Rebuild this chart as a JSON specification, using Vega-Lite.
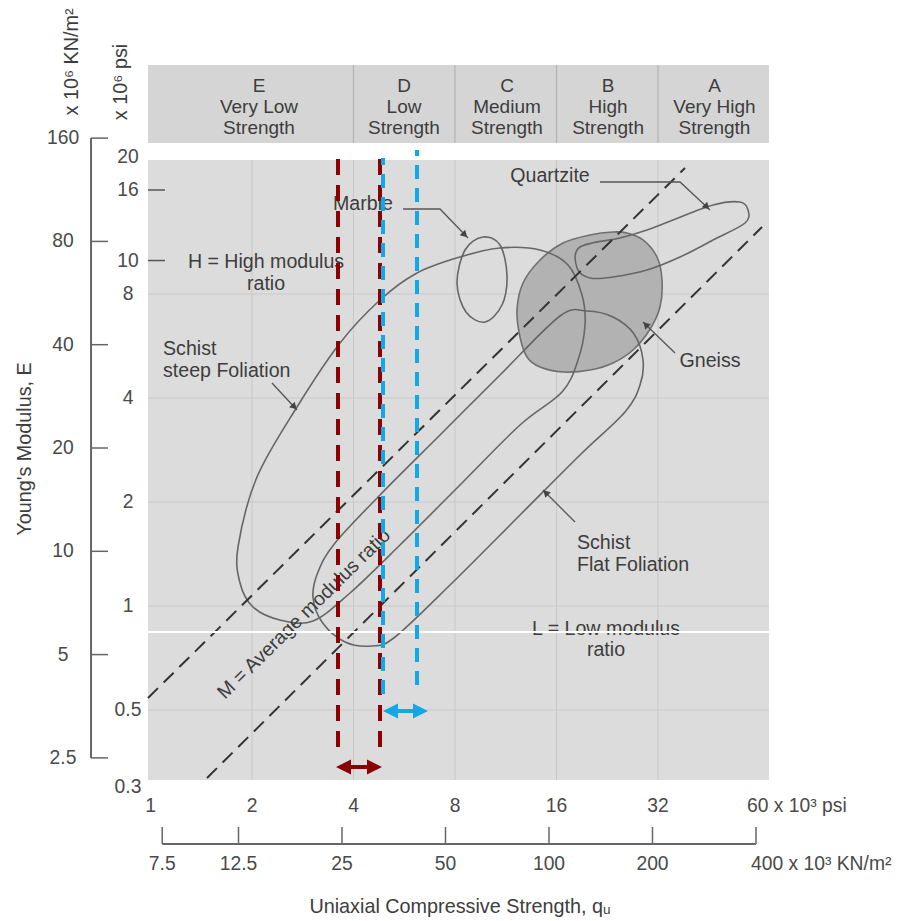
{
"$schema":"https://vega.github.io/schema/vega-lite/v6.json",
"width":914,"height":921,"padding":0,"autosize":{"type":"none"},
"background":"#ffffff",
"config":{"view":{"stroke":null},"text":{"font":"Liberation Sans"}},
"resolve":{"scale":{"x":"independent","y":"independent","color":"independent","shape":"independent"}},
"datasets":{
"plotbg":[{"x":0.9831,"x2":68.29,"y":0.3136,"y2":19.54}],
"header":[{"x":0.9831,"x2":68.29,"y":21.89,"y2":36.81}],
"headerDiv":[{"x":4,"y":21.89,"y2":36.81},{"x":8,"y":21.89,"y2":36.81},{"x":16,"y":21.89,"y2":36.81},{"x":32,"y":21.89,"y2":36.81}],
"headerText":[
{"x":2.098,"y":30.85,"t":"E\nVery Low\nStrength"},
{"x":5.647,"y":30.85,"t":"D\nLow\nStrength"},
{"x":11.41,"y":30.85,"t":"C\nMedium\nStrength"},
{"x":22.75,"y":30.85,"t":"B\nHigh\nStrength"},
{"x":47.07,"y":30.85,"t":"A\nVery High\nStrength"}],
"grid":[
{"x":2,"x2":2,"y":0.3136,"y2":19.54},{"x":4,"x2":4,"y":0.3136,"y2":19.54},{"x":8,"x2":8,"y":0.3136,"y2":19.54},{"x":16,"x2":16,"y":0.3136,"y2":19.54},{"x":32,"x2":32,"y":0.3136,"y2":19.54},
{"x":0.9831,"x2":68.29,"y":8,"y2":8},{"x":0.9831,"x2":68.29,"y":4,"y2":4},{"x":0.9831,"x2":68.29,"y":2,"y2":2},{"x":0.9831,"x2":68.29,"y":1,"y2":1},{"x":0.9831,"x2":68.29,"y":0.5,"y2":0.5}],
"seam":[{"x":0.6179,"x2":73.62,"y":0.8409,"y2":0.8409}],
"psiTicks":[{"x":0.9831,"x2":1.1042,"y":16,"y2":16},{"x":0.9831,"x2":1.1042,"y":10,"y2":10}],
"gneiss":[
{"i":1,"x":23.536,"y":12.094},{"i":2,"x":20.115,"y":11.856},{"i":3,"x":16.728,"y":11.239},{"i":4,"x":14.297,"y":10.036},{"i":5,"x":12.730,"y":8.610},{"i":6,"x":12.218,"y":7.191},{"i":7,"x":12.471,"y":6.007},{"i":8,"x":13.082,"y":5.257},{"i":9,"x":14.297,"y":4.918},{"i":10,"x":16.728,"y":4.757},{"i":11,"x":20.115,"y":4.821},{"i":12,"x":23.536,"y":5.052},{"i":13,"x":26.979,"y":5.508},{"i":14,"x":30.200,"y":6.294},{"i":15,"x":32.440,"y":7.337},{"i":16,"x":32.890,"y":8.784},{"i":17,"x":31.782,"y":10.238},{"i":18,"x":28.885,"y":11.467},{"i":19,"x":25.896,"y":12.014}],
"outlines":[
{"shape":"steep","i":1,"x":1.8179,"y":1.4820},{"shape":"steep","i":2,"x":2.0696,"y":2.3628},{"shape":"steep","i":3,"x":2.7196,"y":3.7676},{"shape":"steep","i":4,"x":3.648,"y":5.772},{"shape":"steep","i":5,"x":4.794,"y":7.687},{"shape":"steep","i":6,"x":6.172,"y":9.202},{"shape":"steep","i":7,"x":8.278,"y":10.238},{"shape":"steep","i":8,"x":10.878,"y":10.870},{"shape":"steep","i":9,"x":14.297,"y":10.728},{"shape":"steep","i":10,"x":17.310,"y":9.707},{"shape":"steep","i":11,"x":19.043,"y":7.948},{"shape":"steep","i":12,"x":19.440,"y":6.507},{"shape":"steep","i":13,"x":18.533,"y":5.154},{"shape":"steep","i":14,"x":16.614,"y":4.164},{"shape":"steep","i":15,"x":12.471,"y":3.3416},{"shape":"steep","i":16,"x":8.278,"y":2.2402},{"shape":"steep","i":17,"x":5.495,"y":1.5018},{"shape":"steep","i":18,"x":3.906,"y":1.0907},{"shape":"steep","i":19,"x":3.0336,"y":0.9049},{"shape":"steep","i":20,"x":2.4218,"y":0.9110},{"shape":"steep","i":21,"x":2.0137,"y":0.99336},{"shape":"steep","i":22,"x":1.8429,"y":1.1658},
{"shape":"flat","i":1,"x":3.139,"y":1.2545},{"shape":"flat","i":2,"x":3.0336,"y":1.0620},{"shape":"flat","i":3,"x":3.226,"y":0.8989},{"shape":"flat","i":4,"x":3.775,"y":0.7867},{"shape":"flat","i":5,"x":4.539,"y":0.7661},{"shape":"flat","i":6,"x":5.311,"y":0.8134},{"shape":"flat","i":7,"x":7.732,"y":1.1503},{"shape":"flat","i":8,"x":12.471,"y":1.8343},{"shape":"flat","i":9,"x":18.787,"y":2.7358},{"shape":"flat","i":10,"x":25.547,"y":3.6442},{"shape":"flat","i":11,"x":28.303,"y":4.3628},{"shape":"flat","i":12,"x":28.885,"y":5.154},{"shape":"flat","i":13,"x":27.166,"y":6.129},{"shape":"flat","i":14,"x":23.536,"y":6.864},{"shape":"flat","i":15,"x":19.704,"y":7.144},{"shape":"flat","i":16,"x":16.389,"y":6.910},{"shape":"flat","i":17,"x":10.878,"y":4.663},{"shape":"flat","i":18,"x":7.221,"y":3.126},{"shape":"flat","i":19,"x":4.794,"y":2.0958},{"shape":"flat","i":20,"x":3.5258,"y":1.5219},
{"shape":"marble","i":1,"x":9.687,"y":11.698},{"shape":"marble","i":2,"x":10.878,"y":11.091},{"shape":"marble","i":3,"x":11.41,"y":9.082},{"shape":"marble","i":4,"x":11.029,"y":7.435},{"shape":"marble","i":5,"x":9.819,"y":6.639},{"shape":"marble","i":6,"x":8.625,"y":7.097},{"shape":"marble","i":7,"x":8.110,"y":8.610},{"shape":"marble","i":8,"x":8.566,"y":10.728},
{"shape":"quartzite","i":1,"x":18.787,"y":10.943},{"shape":"quartzite","i":2,"x":24.690,"y":11.621},{"shape":"quartzite","i":3,"x":29.688,"y":12.258},{"shape":"quartzite","i":4,"x":35.453,"y":13.102},{"shape":"quartzite","i":5,"x":46.592,"y":14.478},{"shape":"quartzite","i":6,"x":56.025,"y":14.772},{"shape":"quartzite","i":7,"x":59.175,"y":14.004},{"shape":"quartzite","i":8,"x":57.971,"y":12.843},{"shape":"quartzite","i":9,"x":46.592,"y":11.467},{"shape":"quartzite","i":10,"x":37.194,"y":10.238},{"shape":"quartzite","i":11,"x":29.688,"y":9.389},{"shape":"quartzite","i":12,"x":23.536,"y":8.961},{"shape":"quartzite","i":13,"x":20.115,"y":8.901},{"shape":"quartzite","i":14,"x":18.405,"y":9.514}],
"modLines":[{"ratio":500,"x":0.9831,"y":0.5417,"x2":38.48,"y2":18.53},{"ratio":200,"x":1.4710,"y":0.3178,"x2":65.10,"y2":12.50}],
"leaders":[
{"name":"quartzite","i":1,"x":21.538,"y":16.880},{"name":"quartzite","i":2,"x":37.194,"y":16.880},{"name":"quartzite","i":3,"x":45.648,"y":14.004},
{"name":"marble","i":1,"x":5.609,"y":14.099},{"name":"marble","i":2,"x":7.221,"y":14.099},{"name":"marble","i":3,"x":8.744,"y":11.621},
{"name":"steep","i":1,"x":2.2928,"y":4.421},{"name":"steep","i":2,"x":2.7196,"y":3.693},
{"name":"gneiss","i":1,"x":35.946,"y":5.400},{"name":"gneiss","i":2,"x":28.885,"y":6.639},
{"name":"flat","i":1,"x":18.157,"y":1.7505},{"name":"flat","i":2,"x":14.593,"y":2.1668}],
"headsDR":[{"name":"quartzite","x":44.419,"y":14.382},{"name":"marble","x":8.508,"y":11.935},{"name":"steep","x":2.6554,"y":3.793}],
"headsUL":[{"name":"gneiss","x":29.587,"y":6.485},{"name":"flat","x":14.944,"y":2.117}],
"annot":[
{"x":15.307,"y":17.568,"t":"Quartzite"},
{"x":4.268,"y":14.577,"t":"Marble"},
{"x":2.201,"y":9.902,"t":"H = High modulus"},
{"x":2.201,"y":8.552,"t":"ratio"},
{"x":45.648,"y":5.119,"t":"Gneiss"},
{"x":22.437,"y":0.8580,"t":"L = Low modulus"},
{"x":22.437,"y":0.7460,"t":"ratio"}],
"annotL":[
{"x":1.0893,"y":5.546,"t":"Schist"},
{"x":1.0893,"y":4.789,"t":"steep Foliation"},
{"x":18.405,"y":1.5219,"t":"Schist"},
{"x":18.405,"y":1.3143,"t":"Flat Foliation"}],
"annotRot":[{"x":2.853,"y":0.9479,"t":"M = Average modulus ratio"}],
"redLines":[{"x":3.598,"y":0.3908,"y2":19.80},{"x":4.794,"y":0.3908,"y2":19.80}],
"blueLines":[{"x":4.893,"y":0.5563,"y2":19.80},{"x":6.172,"y":0.5907,"y2":20.89}],
"arrowShafts":[{"arrow":"red","x":3.648,"x2":4.729,"y":0.3420},{"arrow":"blue","x":5.029,"x2":6.474,"y":0.4967}],
"arrowHeads":[{"arrow":"red","end":"left","x":3.736,"y":0.3420},{"arrow":"red","end":"right","x":4.617,"y":0.3420},{"arrow":"blue","end":"left","x":5.151,"y":0.4967},{"arrow":"blue","end":"right","x":6.322,"y":0.4967}],
"knYAxis":[{"a":2.5,"b":160}],
"knY":[{"v":160,"label":"160"},{"v":80,"label":"80"},{"v":40,"label":"40"},{"v":20,"label":"20"},{"v":10,"label":"10"},{"v":5,"label":"5"},{"v":2.5,"label":"2.5"}],
"psiY":[{"v":20,"label":"20"},{"v":16,"label":"16"},{"v":10,"label":"10"},{"v":8,"label":"8"},{"v":4,"label":"4"},{"v":2,"label":"2"},{"v":1,"label":"1"},{"v":0.5,"label":"0.5"},{"v":0.3,"label":"0.3"}],
"psiX":[{"v":1,"label":"1"},{"v":2,"label":"2"},{"v":4,"label":"4"},{"v":8,"label":"8"},{"v":16,"label":"16"},{"v":32,"label":"32"}],
"psiXEnd":[{"v":60,"label":"60 x 10³ psi"}],
"knX":[{"v":7.5,"label":"7.5"},{"v":12.5,"label":"12.5"},{"v":25,"label":"25"},{"v":50,"label":"50"},{"v":100,"label":"100"},{"v":200,"label":"200"},{"v":400,"label":"400"}],
"knXAxis":[{"a":7.5,"b":400}],
"knXEnd":[{"v":400,"label":"400 x 10³ KN/m²"}],
"titleH":[{"x":8.278,"y":0.13453,"t":"Uniaxial Compressive Strength, qᵤ"}],
"titleV":[{"x":0.4245,"y":2.8476,"t":"Young's Modulus, E"},{"x":0.5851,"y":37.56,"t":"x 10⁶ KN/m²"},{"x":0.8176,"y":32.87,"t":"x 10⁶ psi"}]
},
"layer":[
{"data":{"name":"plotbg"},"mark":{"type":"rect","fill":"#dcdcdc"},
 "encoding":{"x":{"field":"x","type":"quantitative","scale":{"type":"log","domain":[0.3578,183.83],"nice":false},"axis":null},"x2":{"field":"x2"},
 "y":{"field":"y","type":"quantitative","scale":{"type":"log","domain":[0.12253,56.77],"nice":false},"axis":null},"y2":{"field":"y2"}}},
{"data":{"name":"header"},"mark":{"type":"rect","fill":"#d5d5d5"},
 "encoding":{"x":{"field":"x","type":"quantitative","scale":{"type":"log","domain":[0.3578,183.83],"nice":false},"axis":null},"x2":{"field":"x2"},
 "y":{"field":"y","type":"quantitative","scale":{"type":"log","domain":[0.12253,56.77],"nice":false},"axis":null},"y2":{"field":"y2"}}},
{"data":{"name":"headerDiv"},"mark":{"type":"rule","color":"#b5b5b5","strokeWidth":1.3},
 "encoding":{"x":{"field":"x","type":"quantitative","scale":{"type":"log","domain":[0.3578,183.83],"nice":false},"axis":null},
 "y":{"field":"y","type":"quantitative","scale":{"type":"log","domain":[0.12253,56.77],"nice":false},"axis":null},"y2":{"field":"y2"}}},
{"data":{"name":"grid"},"mark":{"type":"rule","color":"#c8c8c8","strokeWidth":1},
 "encoding":{"x":{"field":"x","type":"quantitative","scale":{"type":"log","domain":[0.3578,183.83],"nice":false},"axis":null},"x2":{"field":"x2"},
 "y":{"field":"y","type":"quantitative","scale":{"type":"log","domain":[0.12253,56.77],"nice":false},"axis":null},"y2":{"field":"y2"}}},
{"data":{"name":"gneiss"},"mark":{"type":"line","interpolate":"cardinal-closed","fill":"#b2b2b2","stroke":"#707070","strokeWidth":1.6},
 "encoding":{"x":{"field":"x","type":"quantitative","scale":{"type":"log","domain":[0.3578,183.83],"nice":false},"axis":null},
 "y":{"field":"y","type":"quantitative","scale":{"type":"log","domain":[0.12253,56.77],"nice":false},"axis":null},"order":{"field":"i","type":"quantitative"}}},
{"data":{"name":"outlines"},"mark":{"type":"line","interpolate":"cardinal-closed","color":"#666666","strokeWidth":1.6},
 "encoding":{"x":{"field":"x","type":"quantitative","scale":{"type":"log","domain":[0.3578,183.83],"nice":false},"axis":null},
 "y":{"field":"y","type":"quantitative","scale":{"type":"log","domain":[0.12253,56.77],"nice":false},"axis":null},"order":{"field":"i","type":"quantitative"},"detail":{"field":"shape","type":"nominal"}}},
{"data":{"name":"modLines"},"mark":{"type":"rule","color":"#333333","strokeWidth":2,"strokeDash":[14,8]},
 "encoding":{"x":{"field":"x","type":"quantitative","scale":{"type":"log","domain":[0.3578,183.83],"nice":false},"axis":null},"x2":{"field":"x2"},
 "y":{"field":"y","type":"quantitative","scale":{"type":"log","domain":[0.12253,56.77],"nice":false},"axis":null},"y2":{"field":"y2"}}},
{"data":{"name":"leaders"},"mark":{"type":"line","color":"#555555","strokeWidth":1.3},
 "encoding":{"x":{"field":"x","type":"quantitative","scale":{"type":"log","domain":[0.3578,183.83],"nice":false},"axis":null},
 "y":{"field":"y","type":"quantitative","scale":{"type":"log","domain":[0.12253,56.77],"nice":false},"axis":null},"order":{"field":"i","type":"quantitative"},"detail":{"field":"name","type":"nominal"}}},
{"data":{"name":"headsDR"},"mark":{"type":"point","shape":"triangle","angle":135,"size":60,"filled":true,"fill":"#444444","strokeWidth":0,"opacity":1},
 "encoding":{"x":{"field":"x","type":"quantitative","scale":{"type":"log","domain":[0.3578,183.83],"nice":false},"axis":null},
 "y":{"field":"y","type":"quantitative","scale":{"type":"log","domain":[0.12253,56.77],"nice":false},"axis":null}}},
{"data":{"name":"headsUL"},"mark":{"type":"point","shape":"triangle","angle":315,"size":60,"filled":true,"fill":"#444444","strokeWidth":0,"opacity":1},
 "encoding":{"x":{"field":"x","type":"quantitative","scale":{"type":"log","domain":[0.3578,183.83],"nice":false},"axis":null},
 "y":{"field":"y","type":"quantitative","scale":{"type":"log","domain":[0.12253,56.77],"nice":false},"axis":null}}},
{"data":{"name":"annot"},"mark":{"type":"text","align":"center","baseline":"middle","fontSize":19.6,"fill":"#3d3d3d"},
 "encoding":{"x":{"field":"x","type":"quantitative","scale":{"type":"log","domain":[0.3578,183.83],"nice":false},"axis":null},
 "y":{"field":"y","type":"quantitative","scale":{"type":"log","domain":[0.12253,56.77],"nice":false},"axis":null},"text":{"field":"t"}}},
{"data":{"name":"annotL"},"mark":{"type":"text","align":"left","baseline":"middle","fontSize":19.6,"fill":"#3d3d3d"},
 "encoding":{"x":{"field":"x","type":"quantitative","scale":{"type":"log","domain":[0.3578,183.83],"nice":false},"axis":null},
 "y":{"field":"y","type":"quantitative","scale":{"type":"log","domain":[0.12253,56.77],"nice":false},"axis":null},"text":{"field":"t"}}},
{"data":{"name":"annotRot"},"mark":{"type":"text","align":"center","baseline":"middle","fontSize":19.6,"angle":315.5,"fill":"#3d3d3d"},
 "encoding":{"x":{"field":"x","type":"quantitative","scale":{"type":"log","domain":[0.3578,183.83],"nice":false},"axis":null},
 "y":{"field":"y","type":"quantitative","scale":{"type":"log","domain":[0.12253,56.77],"nice":false},"axis":null},"text":{"field":"t"}}},
{"data":{"name":"headerText"},"mark":{"type":"text","align":"center","baseline":"alphabetic","fontSize":19,"lineBreak":"\n","lineHeight":21,"fill":"#3d3d3d"},
 "encoding":{"x":{"field":"x","type":"quantitative","scale":{"type":"log","domain":[0.3578,183.83],"nice":false},"axis":null},
 "y":{"field":"y","type":"quantitative","scale":{"type":"log","domain":[0.12253,56.77],"nice":false},"axis":null},"text":{"field":"t"}}},
{"data":{"name":"seam"},"mark":{"type":"rule","color":"#ffffff","strokeWidth":2},
 "encoding":{"x":{"field":"x","type":"quantitative","scale":{"type":"log","domain":[0.3578,183.83],"nice":false},"axis":null},"x2":{"field":"x2"},
 "y":{"field":"y","type":"quantitative","scale":{"type":"log","domain":[0.12253,56.77],"nice":false},"axis":null},"y2":{"field":"y2"}}},
{"data":{"name":"psiTicks"},"mark":{"type":"rule","color":"#555555","strokeWidth":1.5},
 "encoding":{"x":{"field":"x","type":"quantitative","scale":{"type":"log","domain":[0.3578,183.83],"nice":false},"axis":null},"x2":{"field":"x2"},
 "y":{"field":"y","type":"quantitative","scale":{"type":"log","domain":[0.12253,56.77],"nice":false},"axis":null},"y2":{"field":"y2"}}},
{"data":{"name":"knYAxis"},"mark":{"type":"rule","color":"#666666","strokeWidth":2},
 "encoding":{"x":{"datum":0.6662,"type":"quantitative","scale":{"type":"log","domain":[0.3578,183.83],"nice":false},"axis":null},
 "y":{"field":"a","type":"quantitative","scale":{"type":"log","domain":[0.8368,404.2],"nice":false},"axis":null},"y2":{"field":"b"}}},
{"data":{"name":"knY"},"mark":{"type":"rule","color":"#666666","strokeWidth":1.5},
 "encoding":{"x":{"datum":0.6662,"type":"quantitative","scale":{"type":"log","domain":[0.3578,183.83],"nice":false},"axis":null},"x2":{"datum":0.7482},
 "y":{"field":"v","type":"quantitative","scale":{"type":"log","domain":[0.8368,404.2],"nice":false},"axis":null}}},
{"data":{"name":"knY"},"mark":{"type":"text","align":"center","baseline":"middle","fontSize":19.3,"fill":"#4a4a4a"},
 "encoding":{"x":{"datum":0.5502,"type":"quantitative","scale":{"type":"log","domain":[0.3578,183.83],"nice":false},"axis":null},
 "y":{"field":"v","type":"quantitative","scale":{"type":"log","domain":[0.8368,404.2],"nice":false},"axis":null},"text":{"field":"label"}}},
{"data":{"name":"psiY"},"mark":{"type":"text","align":"center","baseline":"middle","fontSize":19.3,"fill":"#4a4a4a"},
 "encoding":{"x":{"datum":0.8577,"type":"quantitative","scale":{"type":"log","domain":[0.3578,183.83],"nice":false},"axis":null},
 "y":{"field":"v","type":"quantitative","scale":{"type":"log","domain":[0.12253,56.77],"nice":false},"axis":null},"text":{"field":"label"}}},
{"data":{"name":"psiX"},"mark":{"type":"text","align":"center","baseline":"middle","fontSize":19.3,"fill":"#4a4a4a"},
 "encoding":{"x":{"field":"v","type":"quantitative","scale":{"type":"log","domain":[0.3578,183.83],"nice":false},"axis":null},
 "y":{"datum":0.2637,"type":"quantitative","scale":{"type":"log","domain":[0.12253,56.77],"nice":false},"axis":null},"text":{"field":"label"}}},
{"data":{"name":"psiXEnd"},"mark":{"type":"text","align":"left","baseline":"middle","fontSize":19.3,"dx":-3,"fill":"#4a4a4a"},
 "encoding":{"x":{"field":"v","type":"quantitative","scale":{"type":"log","domain":[0.3578,183.83],"nice":false},"axis":null},
 "y":{"datum":0.2637,"type":"quantitative","scale":{"type":"log","domain":[0.12253,56.77],"nice":false},"axis":null},"text":{"field":"label"}}},
{"data":{"name":"knX"},"mark":{"type":"rule","color":"#666666","strokeWidth":1.5},
 "encoding":{"x":{"field":"v","type":"quantitative","scale":{"type":"log","domain":[2.5307,1152.4],"nice":false},"axis":null},
 "y":{"datum":0.2293,"type":"quantitative","scale":{"type":"log","domain":[0.12253,56.77],"nice":false},"axis":null},"y2":{"datum":0.2047}}},
{"data":{"name":"knXAxis"},"mark":{"type":"rule","color":"#666666","strokeWidth":2},
 "encoding":{"x":{"field":"a","type":"quantitative","scale":{"type":"log","domain":[2.5307,1152.4],"nice":false},"axis":null},"x2":{"field":"b"},
 "y":{"datum":0.2047,"type":"quantitative","scale":{"type":"log","domain":[0.12253,56.77],"nice":false},"axis":null}}},
{"data":{"name":"knX"},"transform":[{"filter":"datum.v < 400"}],"mark":{"type":"text","align":"center","baseline":"middle","fontSize":19.3,"fill":"#4a4a4a"},
 "encoding":{"x":{"field":"v","type":"quantitative","scale":{"type":"log","domain":[2.5307,1152.4],"nice":false},"axis":null},
 "y":{"datum":0.17918,"type":"quantitative","scale":{"type":"log","domain":[0.12253,56.77],"nice":false},"axis":null},"text":{"field":"label"}}},
{"data":{"name":"knXEnd"},"mark":{"type":"text","align":"left","baseline":"middle","fontSize":19.3,"dx":-5,"fill":"#4a4a4a"},
 "encoding":{"x":{"field":"v","type":"quantitative","scale":{"type":"log","domain":[2.5307,1152.4],"nice":false},"axis":null},
 "y":{"datum":0.17918,"type":"quantitative","scale":{"type":"log","domain":[0.12253,56.77],"nice":false},"axis":null},"text":{"field":"label"}}},
{"data":{"name":"titleH"},"mark":{"type":"text","align":"center","baseline":"middle","fontSize":19.8,"fill":"#3d3d3d"},
 "encoding":{"x":{"field":"x","type":"quantitative","scale":{"type":"log","domain":[0.3578,183.83],"nice":false},"axis":null},
 "y":{"field":"y","type":"quantitative","scale":{"type":"log","domain":[0.12253,56.77],"nice":false},"axis":null},"text":{"field":"t"}}},
{"data":{"name":"titleV"},"mark":{"type":"text","align":"center","baseline":"middle","fontSize":19.8,"angle":270,"fill":"#3d3d3d"},
 "encoding":{"x":{"field":"x","type":"quantitative","scale":{"type":"log","domain":[0.3578,183.83],"nice":false},"axis":null},
 "y":{"field":"y","type":"quantitative","scale":{"type":"log","domain":[0.12253,56.77],"nice":false},"axis":null},"text":{"field":"t"}}},
{"data":{"name":"redLines"},"mark":{"type":"rule","color":"#8b0000","strokeWidth":4,"strokeDash":[16,10]},
 "encoding":{"x":{"field":"x","type":"quantitative","scale":{"type":"log","domain":[0.3578,183.83],"nice":false},"axis":null},
 "y":{"field":"y","type":"quantitative","scale":{"type":"log","domain":[0.12253,56.77],"nice":false},"axis":null},"y2":{"field":"y2"}}},
{"data":{"name":"blueLines"},"mark":{"type":"rule","color":"#12a8e5","strokeWidth":4,"strokeDash":[14,9]},
 "encoding":{"x":{"field":"x","type":"quantitative","scale":{"type":"log","domain":[0.3578,183.83],"nice":false},"axis":null},
 "y":{"field":"y","type":"quantitative","scale":{"type":"log","domain":[0.12253,56.77],"nice":false},"axis":null},"y2":{"field":"y2"}}},
{"data":{"name":"arrowShafts"},"mark":{"type":"rule","strokeWidth":4},
 "encoding":{"x":{"field":"x","type":"quantitative","scale":{"type":"log","domain":[0.3578,183.83],"nice":false},"axis":null},"x2":{"field":"x2"},
 "y":{"field":"y","type":"quantitative","scale":{"type":"log","domain":[0.12253,56.77],"nice":false},"axis":null},
 "color":{"field":"arrow","type":"nominal","scale":{"domain":["red","blue"],"range":["#8b0000","#12a8e5"]},"legend":null}}},
{"data":{"name":"arrowHeads"},"mark":{"type":"point","filled":true,"size":225,"opacity":1,"strokeWidth":0},
 "encoding":{"x":{"field":"x","type":"quantitative","scale":{"type":"log","domain":[0.3578,183.83],"nice":false},"axis":null},
 "y":{"field":"y","type":"quantitative","scale":{"type":"log","domain":[0.12253,56.77],"nice":false},"axis":null},
 "color":{"field":"arrow","type":"nominal","scale":{"domain":["red","blue"],"range":["#8b0000","#12a8e5"]},"legend":null},
 "shape":{"field":"end","type":"nominal","scale":{"domain":["left","right"],"range":["M -1 0 L 1 -1 L 1 1 Z","M 1 0 L -1 -1 L -1 1 Z"]},"legend":null}}}
]
}
